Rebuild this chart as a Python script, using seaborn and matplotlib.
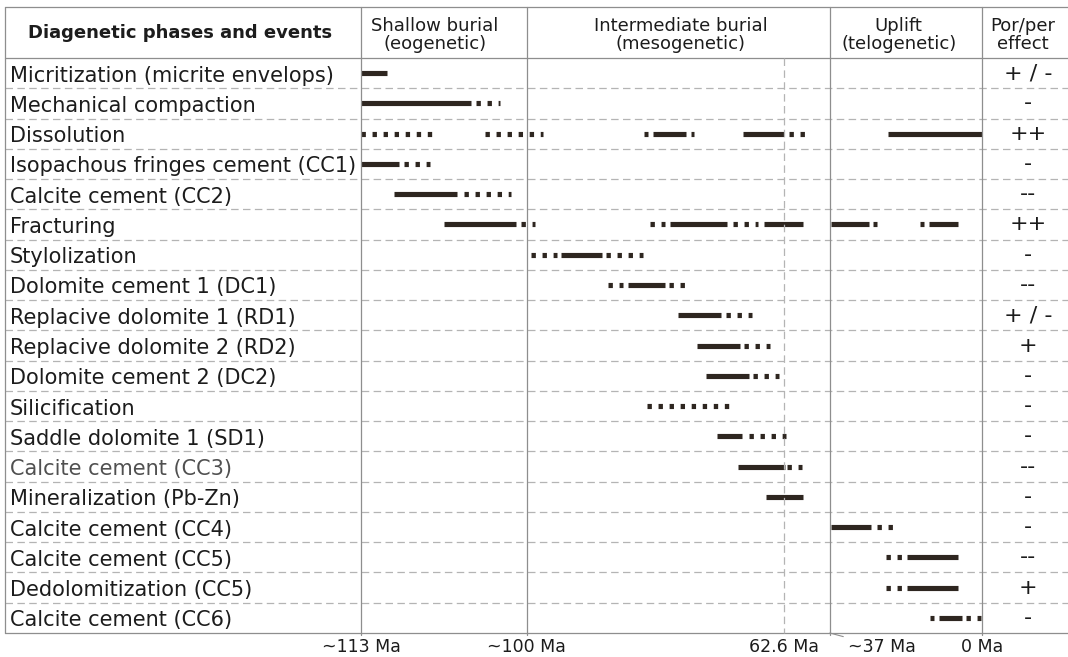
import numpy as np
import pandas as pd
import matplotlib
matplotlib.use("Agg")
import matplotlib.pyplot as plt
import seaborn as sns
from matplotlib.transforms import blended_transform_factory, Affine2D, ScaledTranslation

# ---------------- data ----------------
phases = [
    "Micritization (micrite envelops)",
    "Mechanical compaction",
    "Dissolution",
    "Isopachous fringes cement (CC1)",
    "Calcite cement (CC2)",
    "Fracturing",
    "Stylolization",
    "Dolomite cement 1 (DC1)",
    "Replacive dolomite 1 (RD1)",
    "Replacive dolomite 2 (RD2)",
    "Dolomite cement 2 (DC2)",
    "Silicification",
    "Saddle dolomite 1 (SD1)",
    "Calcite cement (CC3)",
    "Mineralization (Pb-Zn)",
    "Calcite cement (CC4)",
    "Calcite cement (CC5)",
    "Dedolomitization (CC5)",
    "Calcite cement (CC6)",
]
effects = ["+ / -", "-", "++", "-", "--", "++", "-", "--", "+ / -", "+",
           "-", "-", "-", "--", "-", "-", "--", "+", "-"]

# schematic timeline position: 0 = ~113 Ma ... 100 = 0 Ma
boundary_pos = [0, 26.7, 68.1, 75.5, 100]
boundary_labels = ["~113 Ma", "~100 Ma", "62.6 Ma", "~37 Ma", "0 Ma"]
boundary_dashed = [False, False, True, False, False]
stage_names = ["Shallow burial\n(eogenetic)", "Intermediate burial\n(mesogenetic)",
               "Uplift\n(telogenetic)"]
stage_centers = [11.9, 51.5, 86.6]

# segments (start, end, kind) with S = certain (solid), D = probable (dotted)
seg_micritization = [(0.0, 4.2, "S")]
seg_compaction = [(0.0, 17.7, "S"), (18.5, 22.4, "D")]
seg_dissolution = [(0.0, 11.4, "D"), (20.0, 29.3, "D"), (45.6, 46.2, "D"), (47.0, 52.3, "S"),
                   (53.1, 53.6, "D"), (61.5, 68.1, "S"), (68.9, 71.7, "D"), (84.9, 100.0, "S")]
seg_cc1 = [(0.0, 6.1, "S"), (6.9, 11.1, "D")]
seg_cc2 = [(5.3, 15.5, "S"), (16.6, 24.2, "D")]
seg_fracturing = [(13.4, 25.0, "S"), (25.8, 28.0, "D"), (46.5, 49.0, "D"), (49.8, 58.9, "S"),
                  (59.9, 63.9, "D"), (64.9, 71.2, "S"), (75.7, 81.8, "S"), (82.4, 83.1, "D"),
                  (90.0, 90.7, "D"), (91.5, 96.1, "S")]
seg_stylolization = [(27.4, 31.6, "D"), (32.2, 38.8, "S"), (39.5, 45.4, "D")]
seg_dc1 = [(39.8, 42.2, "D"), (43.0, 49.0, "S"), (49.6, 52.2, "D")]
seg_rd1 = [(51.0, 58.0, "S"), (58.8, 63.0, "D")]
seg_rd2 = [(54.1, 61.0, "S"), (61.7, 65.9, "D")]
seg_dc2 = [(55.6, 62.5, "S"), (63.1, 67.3, "D")]
seg_silicification = [(46.1, 60.1, "D")]
seg_sd1 = [(57.3, 61.4, "S"), (62.5, 68.4, "D")]
seg_cc3 = [(60.7, 68.3, "S"), (68.6, 71.0, "D")]
seg_pbzn = [(65.2, 71.2, "S")]
seg_cc4 = [(75.7, 82.1, "S"), (83.1, 85.7, "D")]
seg_cc5 = [(84.5, 87.1, "D"), (87.9, 96.1, "S")]
seg_dedolomitization = [(84.5, 87.1, "D"), (87.9, 96.1, "S")]
seg_cc6 = [(91.6, 92.3, "D"), (93.1, 96.8, "S"), (97.4, 99.8, "D")]

segments = [seg_micritization, seg_compaction, seg_dissolution, seg_cc1, seg_cc2,
            seg_fracturing, seg_stylolization, seg_dc1, seg_rd1, seg_rd2, seg_dc2,
            seg_silicification, seg_sd1, seg_cc3, seg_pbzn, seg_cc4, seg_cc5,
            seg_dedolomitization, seg_cc6]

records = []
for i, segs in enumerate(segments):
    for j, (a, b, k) in enumerate(segs):
        sid = f"{i}-{j}"
        records.append({"x": a, "row": i, "seg": sid, "kind": k})
        records.append({"x": b, "row": i, "seg": sid, "kind": k})
df = pd.DataFrame(records)

# ---------------- style ----------------
sns.set_theme(style="white")
plt.rcParams["font.family"] = ["DejaVu Sans"]
TEXT = "#1c1c1c"
BAR = "#2e2620"
LINE = "#8e8e8e"
DASH = "#b4b4b4"

W, H = 1068, 657
fig = plt.figure(figsize=(W / 100, H / 100), dpi=100)
fig.patch.set_facecolor("white")
X0, X1, Y0, Y1 = 361, 982, 58, 633
ax = fig.add_axes([X0 / W, 1 - Y1 / H, (X1 - X0) / W, (Y1 - Y0) / H])

n = len(phases)
sns.lineplot(data=df, x="x", y="row", units="seg", estimator=None, style="kind",
             dashes={"S": "", "D": (0.85, 1.3)}, color=BAR, lw=3.7, legend=False,
             sort=False, ax=ax, solid_capstyle="butt", dash_capstyle="butt")
ax.set_xlim(0, 100)
ax.set_ylim(n - 0.5, -0.5)
ax.axis("off")

pix = Affine2D().scale(1, -1).translate(0, H)          # pixel coords from top-left
tr_px_row = blended_transform_factory(pix, ax.transData)
tr_dat_px = blended_transform_factory(ax.transData, pix)

# horizontal rules
ax.plot([5, W], [7, 7], transform=pix, color=LINE, lw=0.9, clip_on=False)
for k in range(n + 1):
    y = k - 0.5
    if k == 0 or k == n:
        ax.plot([5, W], [y, y], transform=tr_px_row, color=LINE, lw=0.9, clip_on=False)
    else:
        ax.plot([5, W], [y, y], transform=tr_px_row, color=DASH, lw=0.9,
                ls=(0, (6, 3.5)), clip_on=False)
# left border
ax.plot([5, 5], [7, Y1], transform=pix, color=LINE, lw=0.9, clip_on=False)

# stage boundaries
for p, dashed in zip(boundary_pos, boundary_dashed):
    if dashed:
        ax.plot([p, p], [Y0, Y1], transform=tr_dat_px, color=DASH, lw=0.9,
                ls=(0, (6, 3.5)), clip_on=False)
    else:
        ax.plot([p, p], [7, Y1 + 2], transform=tr_dat_px, color=LINE, lw=0.9, clip_on=False)

# bottom age labels
for p, lab in zip(boundary_pos, boundary_labels):
    if lab.startswith("~37"):
        ax.annotate(lab, xy=(p, 0), xycoords=("data", "axes fraction"),
                    xytext=(52, -19), textcoords="offset pixels", ha="center", va="baseline",
                    fontsize=12.5, color=TEXT, annotation_clip=False,
                    arrowprops=dict(arrowstyle="-", color=LINE, lw=0.8, shrinkA=1, shrinkB=0))
    else:
        ax.annotate(lab, xy=(p, 0), xycoords=("data", "axes fraction"),
                    xytext=(0, -19), textcoords="offset pixels", ha="center", va="baseline",
                    fontsize=12.5, color=TEXT, annotation_clip=False)

# header
ax.text(180, 33, "Diagenetic phases and events", transform=pix, ha="center", va="center",
        fontsize=13, fontweight="bold", color=TEXT)
for c, name in zip(stage_centers, stage_names):
    ax.text(c, 35, name, transform=tr_dat_px, ha="center", va="center", fontsize=13,
            color=TEXT, linespacing=1.05)
ax.text(1023, 35, "Por/per\neffect", transform=pix, ha="center", va="center",
        fontsize=13, color=TEXT, linespacing=1.05)

# row labels and effects
lab_tr = tr_px_row + ScaledTranslation(0, -0.085, fig.dpi_scale_trans)
eff_tr = tr_px_row + ScaledTranslation(0, -0.06, fig.dpi_scale_trans)
for i, (name, eff) in enumerate(zip(phases, effects)):
    col = "#505050" if name == "Calcite cement (CC3)" else TEXT
    ax.text(10, i, name, transform=lab_tr, ha="left", va="baseline", fontsize=15, color=col)
    ax.text(1028, i, eff, transform=eff_tr, ha="center", va="baseline", fontsize=16,
            color=TEXT)

fig.savefig("out.png", dpi=100, facecolor="white")
